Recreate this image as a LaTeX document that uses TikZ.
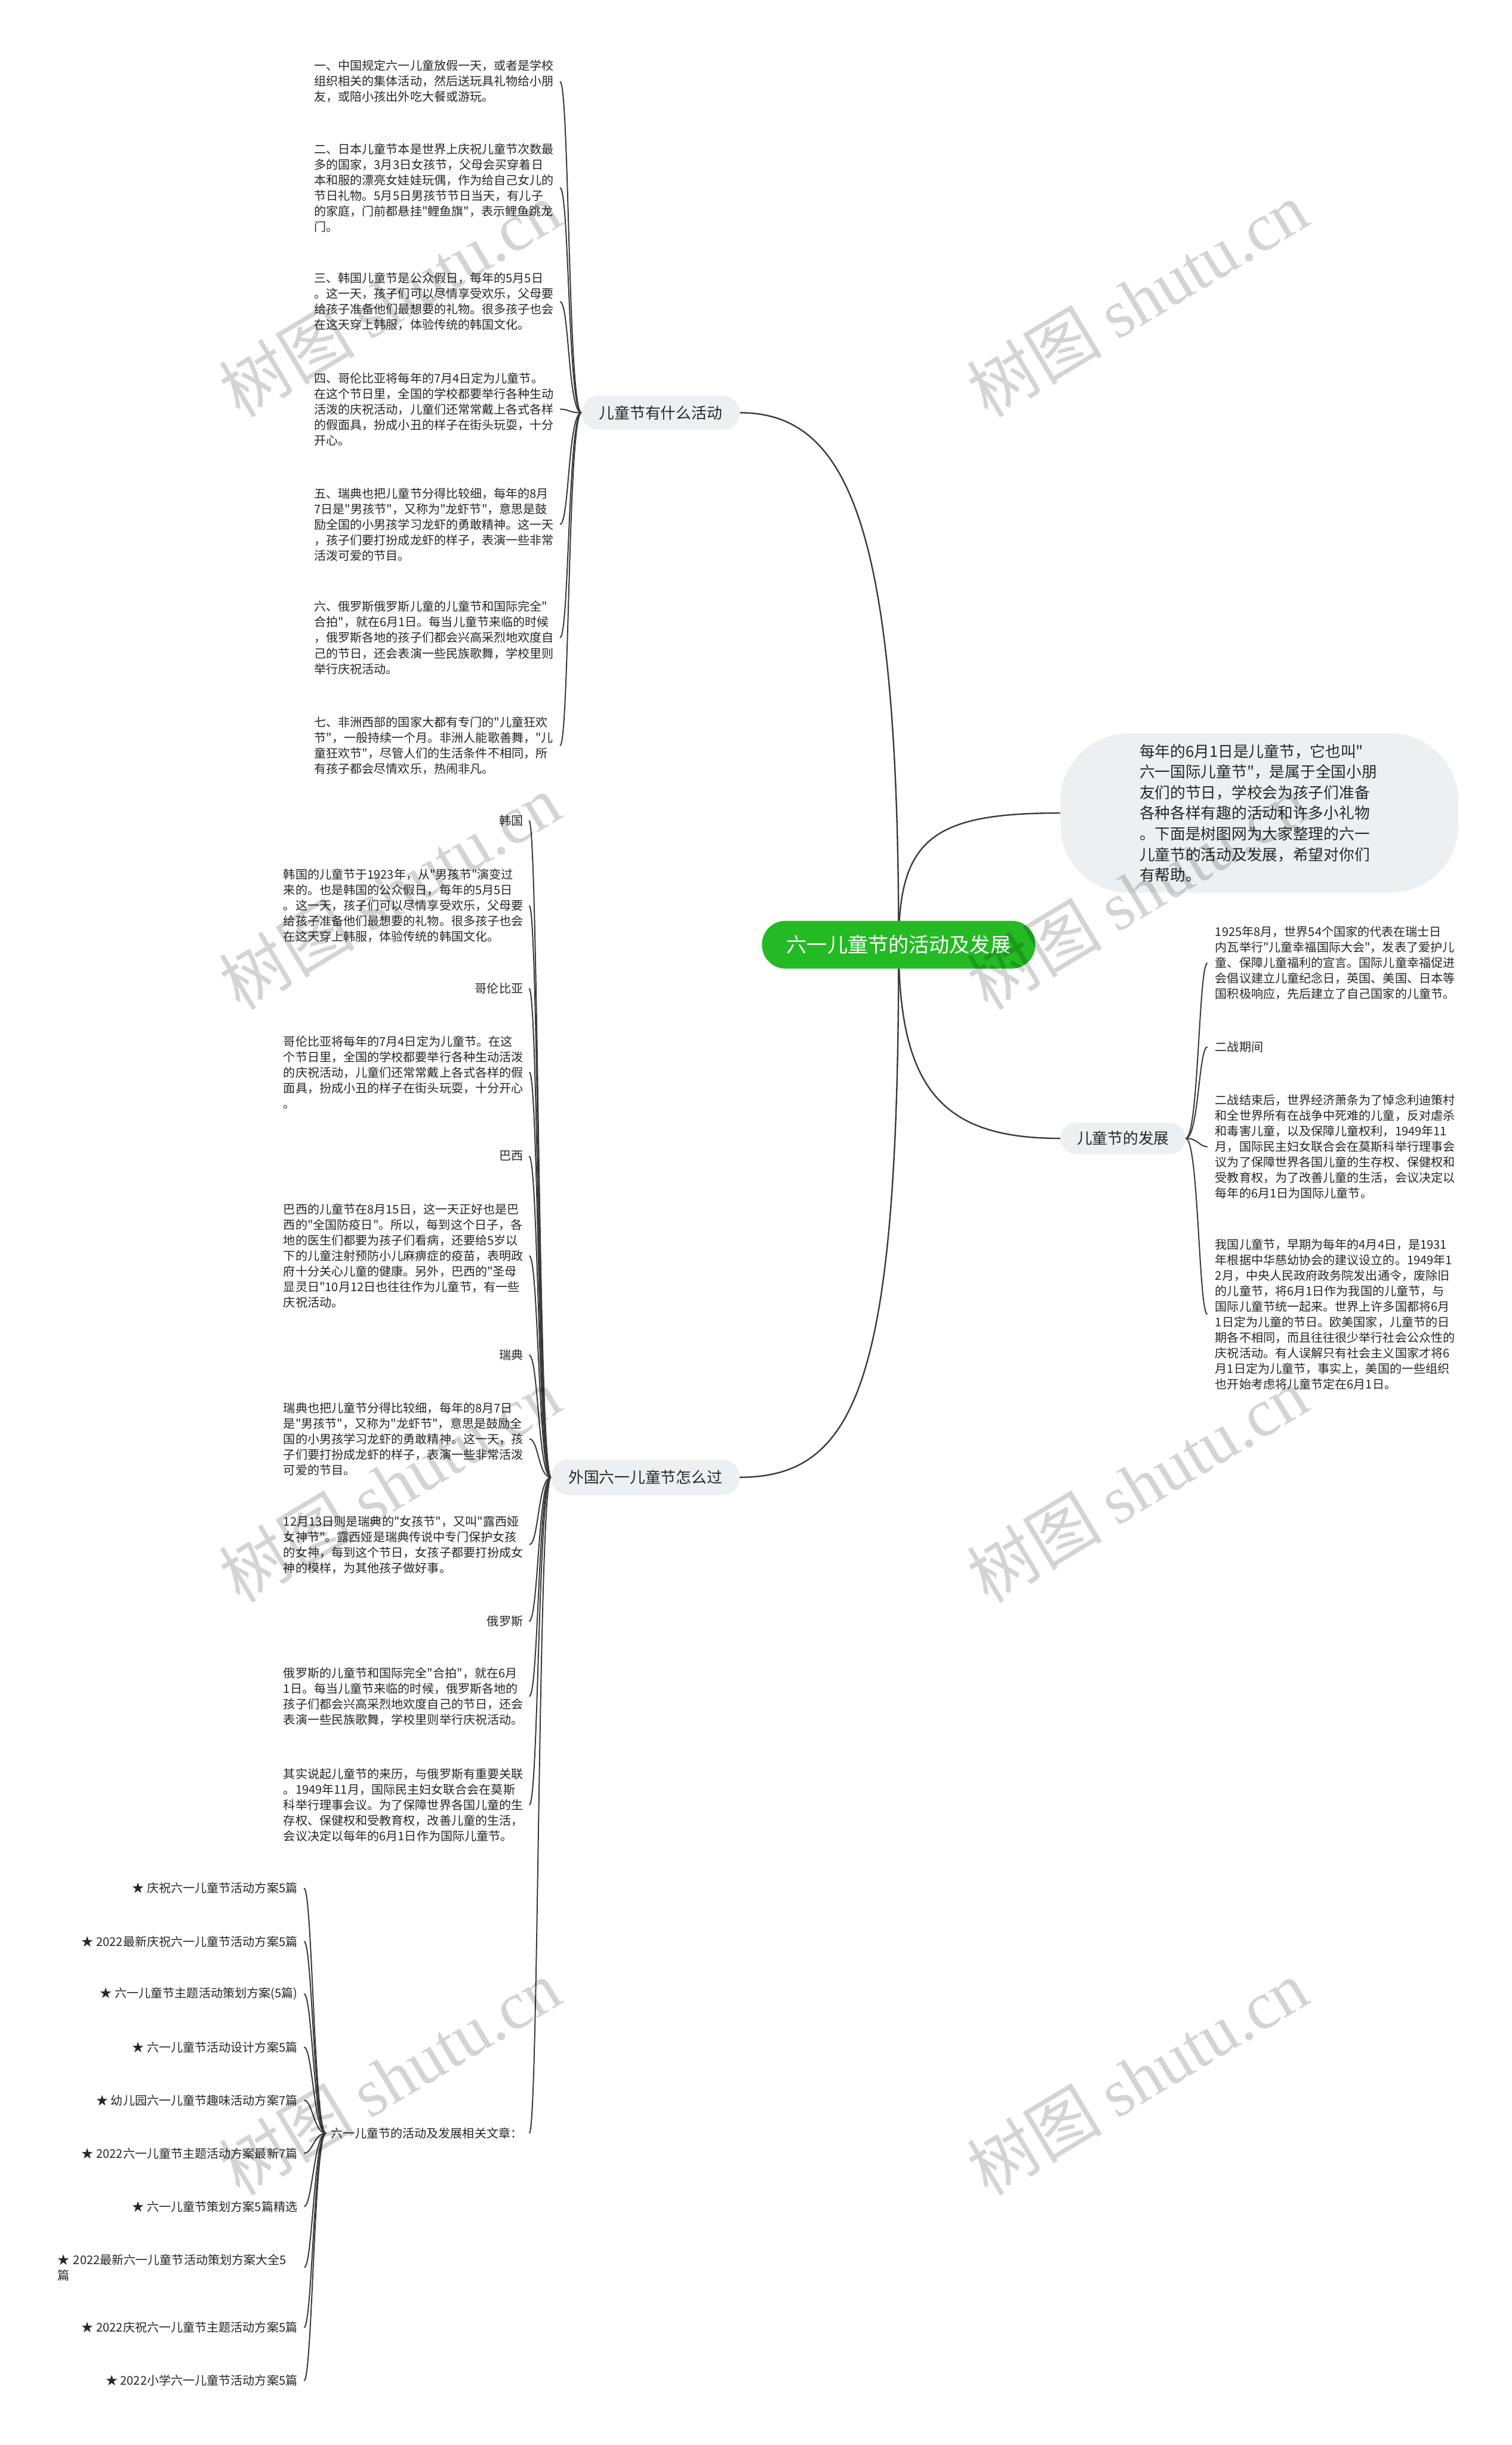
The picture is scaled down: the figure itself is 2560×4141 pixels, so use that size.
\documentclass[tikz,border=0pt]{standalone}
\usepackage{fontspec}
\newfontfamily\cjk{Noto Sans CJK SC}
\newfontfamily\wmlatin{Liberation Serif}
\usetikzlibrary{backgrounds}
\definecolor{rootgreen}{RGB}{36,186,36}
\definecolor{nodegray}{RGB}{237,240,243}
\definecolor{linegray}{RGB}{58,58,58}
\definecolor{txt}{RGB}{38,38,38}
\begin{document}
\begin{tikzpicture}[x=1pt,y=-1pt,
  body/.style={inner sep=0pt, align=left, text width=410pt, font=\cjk\fontsize{20.3}{26.3}\selectfont, text=txt, anchor=west},
  lab/.style={inner sep=0pt, font=\cjk\fontsize{20.3}{26.3}\selectfont, text=txt},
  topic/.style={fill=nodegray, rounded corners=29pt, inner sep=0pt, font=\cjk\fontsize{26}{32}\selectfont, text=txt},
  conn/.style={draw=linegray, line width=2pt},
  mainconn/.style={draw=linegray, line width=2.4pt},
  wm/.style={rotate=31, text=black, opacity=0.17, text opacity=0.17, inner sep=0pt, font=\cjk\fontsize{115}{115}\selectfont}
]
\useasboundingbox (0,0) rectangle (2560,4141);

% root and main topics
\node[fill=rootgreen, rounded corners=40pt, minimum width=463pt, minimum height=81pt, inner sep=0pt, text=white, font=\cjk\fontsize{34.5}{40}\selectfont] (root) at (1522,1600) {六一儿童节的活动及发展};
\node[topic, minimum width=268pt, minimum height=58pt] (b1) at (1119,699) {儿童节有什么活动};
\node[topic, minimum width=319pt, minimum height=60pt] (b2) at (1093,2502) {外国六一儿童节怎么过};
\node[topic, minimum width=212pt, minimum height=53pt, rounded corners=26pt] (b3) at (1902,1928) {儿童节的发展};
\node[topic, minimum width=674pt, minimum height=270pt, rounded corners=115pt, align=left, text width=406pt, font=\cjk\fontsize{26}{35}\selectfont] (intro) at (2133,1377) {每年的6月1日是儿童节，它也叫"\\六一国际儿童节"，是属于全国小朋\\友们的节日，学校会为孩子们准备\\各种各样有趣的活动和许多小礼物\\。下面是树图网为大家整理的六一\\儿童节的活动及发展，希望对你们\\有帮助。};

% children of b1
\node[body] (t1) at (532,138) {一、中国规定六一儿童放假一天，或者是学校\\组织相关的集体活动，然后送玩具礼物给小朋\\友，或陪小孩出外吃大餐或游玩。};
\node[body] (t2) at (532,318) {二、日本儿童节本是世界上庆祝儿童节次数最\\多的国家，3月3日女孩节，父母会买穿着日\\本和服的漂亮女娃娃玩偶，作为给自己女儿的\\节日礼物。5月5日男孩节节日当天，有儿子\\的家庭，门前都悬挂"鲤鱼旗"，表示鲤鱼跳龙\\门。};
\node[body] (t3) at (532,511) {三、韩国儿童节是公众假日，每年的5月5日\\。这一天，孩子们可以尽情享受欢乐，父母要\\给孩子准备他们最想要的礼物。很多孩子也会\\在这天穿上韩服，体验传统的韩国文化。};
\node[body] (t4) at (532,693) {四、哥伦比亚将每年的7月4日定为儿童节。\\在这个节日里，全国的学校都要举行各种生动\\活泼的庆祝活动，儿童们还常常戴上各式各样\\的假面具，扮成小丑的样子在街头玩耍，十分\\开心。};
\node[body] (t5) at (532,888) {五、瑞典也把儿童节分得比较细，每年的8月\\7日是"男孩节"，又称为"龙虾节"，意思是鼓\\励全国的小男孩学习龙虾的勇敢精神。这一天\\，孩子们要打扮成龙虾的样子，表演一些非常\\活泼可爱的节目。};
\node[body] (t6) at (532,1080) {六、俄罗斯俄罗斯儿童的儿童节和国际完全"\\合拍"，就在6月1日。每当儿童节来临的时候\\，俄罗斯各地的孩子们都会兴高采烈地欢度自\\己的节日，还会表演一些民族歌舞，学校里则\\举行庆祝活动。};
\node[body] (t7) at (532,1263) {七、非洲西部的国家大都有专门的"儿童狂欢\\节"，一般持续一个月。非洲人能歌善舞，"儿\\童狂欢节"，尽管人们的生活条件不相同，所\\有孩子都会尽情欢乐，热闹非凡。};

% children of b2
\node[lab, anchor=east] (kr) at (886,1390) {韩国};
\node[body] (kt) at (480,1534) {韩国的儿童节于1923年，从"男孩节"演变过\\来的。也是韩国的公众假日，每年的5月5日\\。这一天，孩子们可以尽情享受欢乐，父母要\\给孩子准备他们最想要的礼物。很多孩子也会\\在这天穿上韩服，体验传统的韩国文化。};
\node[lab, anchor=east] (co) at (886,1674) {哥伦比亚};
\node[body] (ct) at (480,1816) {哥伦比亚将每年的7月4日定为儿童节。在这\\个节日里，全国的学校都要举行各种生动活泼\\的庆祝活动，儿童们还常常戴上各式各样的假\\面具，扮成小丑的样子在街头玩耍，十分开心\\。};
\node[lab, anchor=east] (br) at (886,1958) {巴西};
\node[body] (bt) at (480,2127) {巴西的儿童节在8月15日，这一天正好也是巴\\西的"全国防疫日"。所以，每到这个日子，各\\地的医生们都要为孩子们看病，还要给5岁以\\下的儿童注射预防小儿麻痹症的疫苗，表明政\\府十分关心儿童的健康。另外，巴西的"圣母\\显灵日"10月12日也往往作为儿童节，有一些\\庆祝活动。};
\node[lab, anchor=east] (se) at (886,2295) {瑞典};
\node[body] (st) at (480,2437) {瑞典也把儿童节分得比较细，每年的8月7日\\是"男孩节"，又称为"龙虾节"，意思是鼓励全\\国的小男孩学习龙虾的勇敢精神。这一天，孩\\子们要打扮成龙虾的样子，表演一些非常活泼\\可爱的节目。};
\node[body] (st2) at (480,2616) {12月13日则是瑞典的"女孩节"，又叫"露西娅\\女神节"。露西娅是瑞典传说中专门保护女孩\\的女神，每到这个节日，女孩子都要打扮成女\\神的模样，为其他孩子做好事。};
\node[lab, anchor=east] (ru) at (886,2746) {俄罗斯};
\node[body] (rt) at (480,2873) {俄罗斯的儿童节和国际完全"合拍"，就在6月\\1日。每当儿童节来临的时候，俄罗斯各地的\\孩子们都会兴高采烈地欢度自己的节日，还会\\表演一些民族歌舞，学校里则举行庆祝活动。};
\node[body] (rt2) at (480,3057) {其实说起儿童节的来历，与俄罗斯有重要关联\\。1949年11月，国际民主妇女联合会在莫斯\\科举行理事会议。为了保障世界各国儿童的生\\存权、保健权和受教育权，改善儿童的生活，\\会议决定以每年的6月1日作为国际儿童节。};
\node[body, text width=330pt] (rel) at (560,3613) {六一儿童节的活动及发展相关文章：};

% related articles
\node[lab, anchor=east] (i1) at (504,3198) {★ 庆祝六一儿童节活动方案5篇};
\node[lab, anchor=east] (i2) at (504,3288) {★ 2022最新庆祝六一儿童节活动方案5篇};
\node[lab, anchor=east] (i3) at (504,3377) {★ 六一儿童节主题活动策划方案(5篇)};
\node[lab, anchor=east] (i4) at (504,3467) {★ 六一儿童节活动设计方案5篇};
\node[lab, anchor=east] (i5) at (504,3557) {★ 幼儿园六一儿童节趣味活动方案7篇};
\node[lab, anchor=east] (i6) at (504,3647) {★ 2022六一儿童节主题活动方案最新7篇};
\node[lab, anchor=east] (i7) at (504,3737) {★ 六一儿童节策划方案5篇精选};
\node[body, text width=407pt] (i8) at (97,3840) {★ 2022最新六一儿童节活动策划方案大全5\\篇};
\node[lab, anchor=east] (i9) at (504,3942) {★ 2022庆祝六一儿童节主题活动方案5篇};
\node[lab, anchor=east] (i10) at (504,4032) {★ 2022小学六一儿童节活动方案5篇};

% children of b3
\node[body] (d1) at (2058,1631) {1925年8月，世界54个国家的代表在瑞士日\\内瓦举行"儿童幸福国际大会"，发表了爱护儿\\童、保障儿童福利的宣言。国际儿童幸福促进\\会倡议建立儿童纪念日，英国、美国、日本等\\国积极响应，先后建立了自己国家的儿童节。};
\node[lab, anchor=west] (d2) at (2058,1773) {二战期间};
\node[body] (d3) at (2058,1942) {二战结束后，世界经济萧条为了悼念利迪策村\\和全世界所有在战争中死难的儿童，反对虐杀\\和毒害儿童，以及保障儿童权利，1949年11\\月，国际民主妇女联合会在莫斯科举行理事会\\议为了保障世界各国儿童的生存权、保健权和\\受教育权，为了改善儿童的生活，会议决定以\\每年的6月1日为国际儿童节。};
\node[body] (d4) at (2058,2226) {我国儿童节，早期为每年的4月4日，是1931\\年根据中华慈幼协会的建议设立的。1949年1\\2月，中央人民政府政务院发出通令，废除旧\\的儿童节，将6月1日作为我国的儿童节，与\\国际儿童节统一起来。世界上许多国都将6月\\1日定为儿童的节日。欧美国家，儿童节的日\\期各不相同，而且往往很少举行社会公众性的\\庆祝活动。有人误解只有社会主义国家才将6\\月1日定为儿童节，事实上，美国的一些组织\\也开始考虑将儿童节定在6月1日。};

\begin{scope}[on background layer]
\fill[white] (0,0) rectangle (2560,4141);
\draw[mainconn] (root.center) .. controls (1522,900) and (1440,699) .. (b1.east);
\draw[mainconn] (root.center) .. controls (1522,2330) and (1455,2502) .. (b2.east);
\draw[mainconn] (root.center) .. controls (1522,1420) and (1580,1377) .. (intro.west);
\draw[mainconn] (root.center) .. controls (1522,1850) and (1600,1928) .. (b3.west);
\foreach \c in {t1,t2,t3,t4,t5,t6,t7}
  \draw[conn] (b1.west) .. controls +(-23,0) and +(16,0) .. ([xshift=6pt]\c.east);
\foreach \c in {kt,ct,bt,st,st2,rt,rt2,rel}
  \draw[conn] (b2.west) .. controls +(-22,0) and +(16,0) .. ([xshift=6pt]\c.east);
\foreach \c in {kr,co,br,se,ru}
  \draw[conn] (b2.west) .. controls +(-22,0) and +(16,0) .. ([xshift=10pt]\c.east);
\foreach \c in {i1,i2,i3,i4,i5,i6,i7,i8,i9,i10}
  \draw[conn] ([xshift=-8pt]rel.west) .. controls +(-20,0) and +(14,0) .. ([xshift=11pt]\c.east);
\foreach \c in {d1,d2,d3,d4}
  \draw[conn] (b3.east) .. controls +(22,0) and +(-15,0) .. ([xshift=-13pt]\c.west);
\end{scope}

% watermarks
\foreach \wx/\wy [count=\k] in {660/506,1926/506,660/1510,1926/1510,660/2514,1926/2514,660/3518,1926/3518}
  \node[wm] (wm\k) at (\wx,\wy) {树图 {\wmlatin shutu.cn}};
\end{tikzpicture}
\end{document}
